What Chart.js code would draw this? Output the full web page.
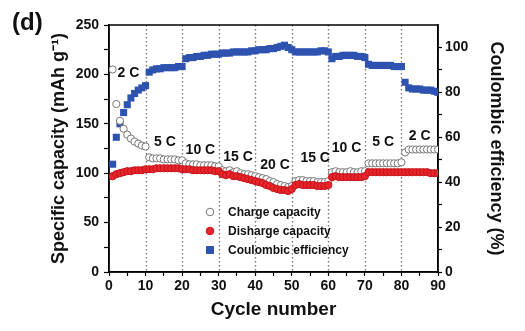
<!DOCTYPE html>
<html>
<head>
<meta charset="utf-8">
<script src="https://cdn.jsdelivr.net/npm/chart.js@4/dist/chart.umd.min.js"></script>
<style>
  html, body { margin: 0; padding: 0; background: #fff; }
  #wrap { width: 525px; height: 331px; position: relative; }
</style>
</head>
<body>
<div id="wrap"><canvas id="myChart"></canvas></div>
<script>
// cycle numbers 1..90
const cycles = [];
for (let i = 1; i <= 90; i++) cycles.push(i);

// charge capacity (mAh g-1)
const chargeCap = [
  205, 170, 153, 145, 139, 135, 132, 130, 128, 127,
  116, 115, 115, 115, 114, 114, 114, 114, 113, 113,
  110, 109, 109, 109, 108, 108, 108, 108, 107, 107,
  103, 102, 103, 101, 102, 100, 99, 99, 98, 97,
  96, 95, 94, 92, 91, 89, 88, 87, 86, 87,
  92, 93, 93, 92, 92, 92, 91, 91, 91, 92,
  101, 102, 101, 101, 101, 102, 101, 101, 102, 102,
  110, 110, 110, 110, 110, 110, 110, 110, 110, 111,
  121, 124, 124, 124, 124, 124, 124, 124, 124, 124
];

// discharge capacity (mAh g-1)
const dischargeCap = [
  97, 99, 100, 101, 102, 102, 103, 103, 103, 104,
  104, 104, 105, 105, 105, 105, 105, 105, 105, 104,
  104, 104, 103, 103, 103, 103, 103, 103, 102, 102,
  99, 98, 99, 97, 97, 96, 95, 94, 93, 92,
  91, 90, 88, 87, 85, 84, 83, 83, 82, 84,
  88, 89, 88, 88, 88, 88, 87, 87, 87, 88,
  96, 97, 96, 96, 96, 96, 96, 96, 96, 97,
  101, 101, 101, 101, 101, 101, 101, 101, 101, 101,
  101, 101, 101, 101, 101, 101, 101, 100, 100, 100
];

// coulombic efficiency (%)
const coulombicEff = [
  48, 60, 66, 71, 74.5, 77.5, 79.5, 81, 82, 83,
  89, 90, 90.5, 90.5, 91, 91, 91, 91, 91.5, 91.5,
  95, 95.5, 95.5, 96, 96, 96.5, 96.5, 97, 97, 97,
  97.5, 97.5, 97.5, 98, 98, 98, 98, 98, 98.5, 98.5,
  99, 99, 99, 99.5, 99.5, 100, 100.5, 101, 100, 99,
  98, 98, 98, 98, 98, 98, 98, 98.5, 98.5, 98,
  95, 96, 96, 96.5, 96.5, 96.5, 96.5, 96, 96, 95.5,
  92.5, 92, 92, 92, 92, 92, 92, 91.5, 91.5, 91.5,
  84.5, 82, 81.5, 81.5, 81.5, 81, 81, 81, 80.5, 80
];

// rate labels and where they sit (cycle, capacity)
const rateText = ['2 C', '5 C', '10 C', '15 C', '20 C', '15 C', '10 C', '5 C', '2 C'];
const rateCycle = [5.3, 15.3, 25, 35.3, 45.4, 56.4, 65, 75, 85];
const rateCap = [201, 131, 123, 116, 108, 115, 125.5, 131, 138];

// dotted separators between rate steps
const stepLines = [10, 20, 30, 40, 50, 60, 70, 80];

const legendText = ['Charge capacity', 'Disharge capacity', 'Coulombic efficiency'];

const FONT = 'Arial, "Liberation Sans", Helvetica, sans-serif';

const toXY = (ys) => ys.map((v, i) => ({ x: cycles[i], y: v }));

// text + box + custom legend
const extras = {
  id: 'extras',
  beforeDatasetsDraw(chart) {
    const { ctx, chartArea: a, scales } = chart;
    ctx.save();
    ctx.strokeStyle = '#777';
    ctx.lineWidth = 1.4;
    ctx.setLineDash([1.4, 2.6]);
    stepLines.forEach(v => {
      const x = Math.round(scales.x.getPixelForValue(v)) + 0.5;
      ctx.beginPath();
      ctx.moveTo(x, a.top);
      ctx.lineTo(x, a.bottom);
      ctx.stroke();
    });
    ctx.setLineDash([]);
    ctx.strokeStyle = '#000';
    ctx.lineWidth = 1.5;
    ctx.strokeRect(a.left, a.top, a.right - a.left, a.bottom - a.top);
    ctx.restore();
  },
  afterDatasetsDraw(chart) {
    const { ctx, chartArea: a, scales } = chart;
    ctx.save();
    ctx.fillStyle = '#111';
    ctx.font = 'bold 14px ' + FONT;
    ctx.textAlign = 'center';
    ctx.textBaseline = 'middle';
    rateText.forEach((t, i) => {
      ctx.fillText(t, scales.x.getPixelForValue(rateCycle[i]), scales.y.getPixelForValue(rateCap[i]));
    });

    // legend
    const w = a.right - a.left, h = a.bottom - a.top;
    const lx = a.left + 0.307 * w;
    const rows = [0.757, 0.834, 0.911];
    const ds = chart.data.datasets;
    ctx.font = 'bold 12px ' + FONT;
    ctx.textAlign = 'left';
    rows.forEach((r, i) => {
      const y = a.top + r * h;
      const d = ds.find(s => s.label === legendText[i]);
      ctx.beginPath();
      if (d.pointStyle === 'rect') {
        ctx.rect(lx - 3.5, y - 3.5, 7, 7);
      } else {
        ctx.arc(lx, y, 3.8, 0, Math.PI * 2);
      }
      ctx.fillStyle = d.pointBackgroundColor;
      ctx.fill();
      ctx.lineWidth = 1;
      ctx.strokeStyle = d.pointBorderColor;
      ctx.stroke();
      ctx.fillStyle = '#111';
      ctx.fillText(legendText[i], lx + 18, y + 1);
    });

    ctx.font = 'bold 24px ' + FONT;
    ctx.textBaseline = 'alphabetic';
    ctx.fillText('(d)', 12, 30);
    ctx.restore();
  }
};

const config = {
  type: 'scatter',
  data: {
    datasets: [
      {
        label: legendText[1],
        data: toXY(dischargeCap),
        yAxisID: 'y',
        pointStyle: 'circle',
        pointRadius: 3.6,
        pointBackgroundColor: '#e8252b',
        pointBorderColor: '#c4121a',
        pointBorderWidth: 1,
        order: 1
      },
      {
        label: legendText[0],
        data: toXY(chargeCap),
        yAxisID: 'y',
        pointStyle: 'circle',
        pointRadius: 3.6,
        pointBackgroundColor: '#ffffff',
        pointBorderColor: '#777777',
        pointBorderWidth: 1,
        order: 2
      },
      {
        label: legendText[2],
        data: toXY(coulombicEff),
        yAxisID: 'y1',
        pointStyle: 'rect',
        pointRadius: 5,
        pointBackgroundColor: '#2d52b0',
        pointBorderColor: '#2d52b0',
        pointBorderWidth: 0,
        order: 3
      }
    ]
  },
  options: {
    responsive: true,
    maintainAspectRatio: false,
    animation: false,
    layout: { padding: { top: 25, left: 0, right: 0, bottom: 0 } },
    plugins: {
      legend: { display: false },
      tooltip: { enabled: false }
    },
    scales: {
      x: {
        type: 'linear',
        min: 0,
        max: 90,
        afterFit: s => { s.height = 59; },
        ticks: {
          stepSize: 5,
          padding: 2,
          autoSkip: false,
          maxRotation: 0,
          minRotation: 0,
          color: '#111',
          font: { family: FONT, size: 14, weight: 'bold' },
          callback: v => (v % 10 === 0 ? v : '')
        },
        grid: { drawOnChartArea: false, tickColor: '#000', tickLength: 4, tickWidth: 1.2 },
        border: { display: true, color: '#000', width: 1.5 },
        title: {
          display: true,
          text: 'Cycle number',
          color: '#111',
          font: { family: FONT, size: 19, weight: 'bold' },
          padding: { top: 0, bottom: 10 }
        }
      },
      y: {
        position: 'left',
        min: 0,
        max: 250,
        afterFit: s => { s.width = 109; },
        ticks: {
          stepSize: 25,
          padding: 5,
          color: '#111',
          font: { family: FONT, size: 14, weight: 'bold' },
          callback: v => (v % 50 === 0 ? v : '')
        },
        grid: { drawOnChartArea: false, tickColor: '#000', tickLength: 5, tickWidth: 1.2 },
        border: { color: '#000', width: 1.5 },
        title: {
          display: true,
          text: 'Specific capacity (mAh g\u207B\u00B9)',
          color: '#111',
          font: { family: FONT, size: 18, weight: 'bold' },
          padding: { top: 48, bottom: 0 }
        }
      },
      y1: {
        position: 'right',
        min: 0,
        max: 110,
        afterFit: s => { s.width = 87; },
        afterBuildTicks: s => { s.ticks = s.ticks.filter(t => t.value <= 100); },
        ticks: {
          stepSize: 10,
          padding: 3,
          color: '#111',
          font: { family: FONT, size: 14, weight: 'bold' },
          callback: v => (v % 20 === 0 ? v : '')
        },
        grid: { drawOnChartArea: false, tickColor: '#000', tickLength: 4, tickWidth: 1.2 },
        border: { color: '#000', width: 1.5 },
        title: {
          display: true,
          text: 'Coulombic efficiency (%)',
          color: '#111',
          font: { family: FONT, size: 18, weight: 'bold' },
          padding: { top: 18, bottom: 0 }
        }
      }
    }
  },
  plugins: [extras]
};

const myChart = new Chart(document.getElementById('myChart'), config);
</script>
</body>
</html>
